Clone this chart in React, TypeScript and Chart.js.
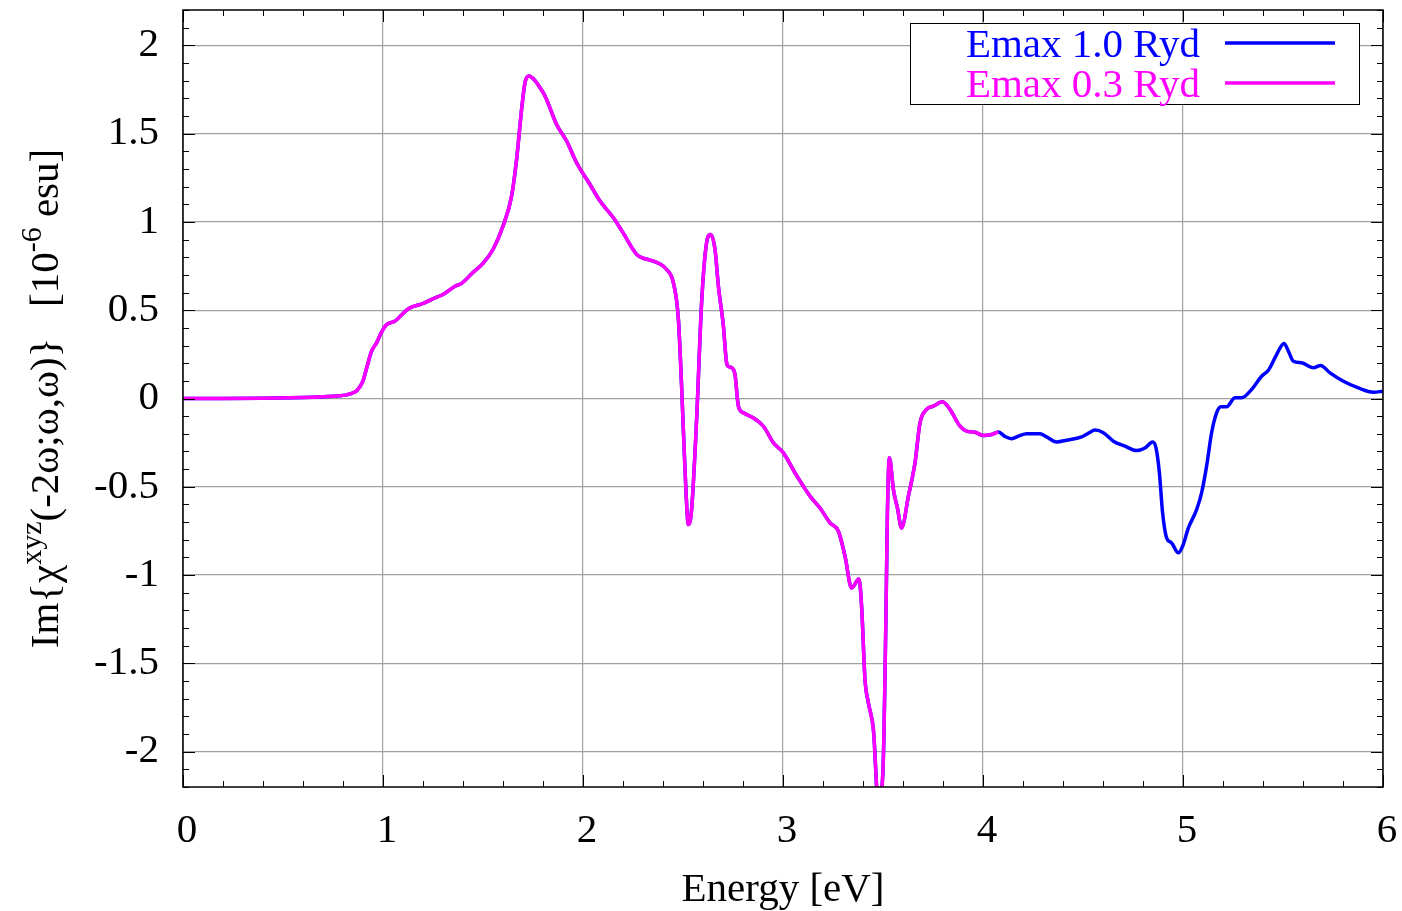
import React, { useEffect, useRef } from "react";
import { Chart, registerables } from "chart.js";
Chart.register(...registerables);

// Shared part of both spectra (Emax 0.3 Ryd ends at ~4.08 eV)
const energyLow = [
  0.0, 0.2, 0.4, 0.6, 0.7, 0.78, 0.84, 0.87, 0.9, 0.92, 0.943, 0.968, 0.99, 1.018, 1.06, 1.09,
  1.127, 1.2, 1.26, 1.3, 1.36, 1.393, 1.452, 1.5, 1.55, 1.6, 1.643, 1.668, 1.693, 1.71, 1.73,
  1.76, 1.785, 1.81, 1.84, 1.868, 1.918, 1.968, 2.035, 2.085, 2.152, 2.2, 2.268, 2.3, 2.335,
  2.38, 2.418, 2.452, 2.477, 2.493, 2.51, 2.527, 2.543, 2.568, 2.593, 2.618, 2.638, 2.66, 2.677,
  2.702, 2.718, 2.73, 2.743, 2.76, 2.777, 2.802, 2.852, 2.902, 2.952, 3.002, 3.06, 3.135, 3.185,
  3.235, 3.277, 3.31, 3.343, 3.38, 3.393, 3.41, 3.427, 3.452, 3.477, 3.5, 3.515, 3.522, 3.532,
  3.552, 3.572, 3.593, 3.627, 3.66, 3.685, 3.718, 3.752, 3.797, 3.835, 3.885, 3.918, 3.96,
  4.002, 4.043, 4.077,
];
const chiLow = [
  0.0, 0.0, 0.002, 0.006, 0.01, 0.015, 0.028, 0.045, 0.1, 0.18, 0.268, 0.315, 0.37, 0.419, 0.438,
  0.47, 0.508, 0.538, 0.57, 0.589, 0.636, 0.652, 0.716, 0.765, 0.844, 0.976, 1.146, 1.354, 1.637,
  1.789, 1.826, 1.8, 1.76, 1.713, 1.63, 1.552, 1.458, 1.335, 1.212, 1.118, 1.024, 0.939, 0.816,
  0.795, 0.784, 0.765, 0.731, 0.655, 0.448, 0.07, -0.402, -0.714, -0.629, -0.119, 0.542, 0.882,
  0.929, 0.844, 0.636, 0.41, 0.202, 0.18, 0.174, 0.136, -0.044, -0.081, -0.11, -0.157, -0.251,
  -0.308, -0.421, -0.553, -0.62, -0.704, -0.752, -0.893, -1.073, -1.022, -1.177, -1.592, -1.724,
  -1.875, -2.3, -2.1, -1.214, -0.648, -0.336, -0.516, -0.62, -0.733, -0.553, -0.364, -0.138,
  -0.062, -0.043, -0.019, -0.062, -0.157, -0.185, -0.191, -0.21, -0.204, -0.189,
];
// Extension only present in Emax 1.0 Ryd
const energyHigh = [
  4.11, 4.143, 4.18, 4.218, 4.285, 4.318, 4.368, 4.418, 4.493, 4.53, 4.56, 4.602, 4.652, 4.71,
  4.768, 4.81, 4.848, 4.865, 4.882, 4.898, 4.918, 4.943, 4.977, 4.998, 5.027, 5.068, 5.093,
  5.118, 5.143, 5.168, 5.19, 5.218, 5.26, 5.293, 5.343, 5.393, 5.427, 5.468, 5.505, 5.527,
  5.552, 5.593, 5.652, 5.688, 5.735, 5.802, 5.877, 5.952, 6.0,
];
const chiHigh = [
  -0.215, -0.228, -0.212, -0.2, -0.2, -0.217, -0.246, -0.236, -0.217, -0.195, -0.179, -0.194,
  -0.242, -0.27, -0.295, -0.28, -0.247, -0.28, -0.421, -0.648, -0.789, -0.818, -0.874, -0.837,
  -0.733, -0.629, -0.534, -0.383, -0.194, -0.081, -0.047, -0.047, 0.004, 0.004, 0.051, 0.126,
  0.16, 0.249, 0.312, 0.268, 0.211, 0.202, 0.174, 0.187, 0.145, 0.098, 0.06, 0.036, 0.041,
];

const xTicks = [0, 1, 2, 3, 4, 5, 6];
const yTicks = [-2, -1.5, -1, -0.5, 0, 0.5, 1, 1.5, 2];
const seriesNames = ["Emax 1.0 Ryd", "Emax 0.3 Ryd"];
const seriesColors = ["#0000ff", "#ff00ff"];
const xTitle = "Energy [eV]";

const FONT = '"Liberation Serif", "Times New Roman", serif';
const FS = 41;

const framePlugin = {
  id: "frame",
  afterDraw(chart: any) {
    const { ctx, chartArea: a, scales } = chart;
    const xs = scales.x;
    const ys = scales.y;
    ctx.save();
    ctx.strokeStyle = "#000";
    ctx.lineWidth = 1.5;
    ctx.strokeRect(a.left, a.top, a.right - a.left, a.bottom - a.top);
    ctx.lineWidth = 1;
    ctx.beginPath();
    for (let i = 0; i <= 30; i++) {
      const v = i * 0.2;
      const px = Math.round(xs.getPixelForValue(v)) + 0.5;
      const len = i % 5 === 0 ? 12 : 6;
      ctx.moveTo(px, a.bottom);
      ctx.lineTo(px, a.bottom - len);
      ctx.moveTo(px, a.top);
      ctx.lineTo(px, a.top + len);
    }
    for (let i = -22; i <= 22; i++) {
      const v = i * 0.1;
      const py = Math.round(ys.getPixelForValue(v)) + 0.5;
      const len = i % 5 === 0 ? 12 : 6;
      ctx.moveTo(a.left, py);
      ctx.lineTo(a.left + len, py);
      ctx.moveTo(a.right, py);
      ctx.lineTo(a.right - len, py);
    }
    ctx.stroke();

    // y-axis title with superscripts
    const segs: [string, boolean][] = [
      ["Im{\u03c7", false],
      ["xyz", true],
      ["(-2\u03c9;\u03c9,\u03c9)}   [10", false],
      ["-6", true],
      [" esu]", false],
    ];
    const big = `${FS}px ${FONT}`;
    const small = `${Math.round(FS * 0.72)}px ${FONT}`;
    let total = 0;
    for (const [t, sup] of segs) {
      ctx.font = sup ? small : big;
      total += ctx.measureText(t).width;
    }
    ctx.translate(58, (a.top + a.bottom) / 2);
    ctx.rotate(-Math.PI / 2);
    ctx.fillStyle = "#000";
    ctx.textBaseline = "alphabetic";
    ctx.textAlign = "left";
    let x = -total / 2;
    for (const [t, sup] of segs) {
      ctx.font = sup ? small : big;
      ctx.fillText(t, x, sup ? -17 : 0);
      x += ctx.measureText(t).width;
    }
    ctx.restore();

    // legend box
    ctx.save();
    ctx.fillStyle = "#fff";
    ctx.fillRect(910, 23, 449, 81);
    ctx.strokeStyle = "#000";
    ctx.lineWidth = 1;
    ctx.strokeRect(910.5, 23.5, 449, 81);
    ctx.font = big;
    ctx.textAlign = "right";
    ctx.textBaseline = "alphabetic";
    seriesNames.forEach((name, i) => {
      const cy = 43 + i * 40;
      ctx.fillStyle = seriesColors[i];
      ctx.fillText(name, 1200, cy + 14);
      ctx.strokeStyle = seriesColors[i];
      ctx.lineWidth = 3.5;
      ctx.beginPath();
      ctx.moveTo(1225, cy);
      ctx.lineTo(1335, cy);
      ctx.stroke();
    });
    ctx.restore();
  },
};

export default function App() {
  const ref = useRef<HTMLCanvasElement>(null);
  useEffect(() => {
    document.body.style.margin = "0";
    const allE = energyLow.concat(energyHigh);
    const allChi = chiLow.concat(chiHigh);
    const blue = allE.map((e, i) => ({ x: e, y: allChi[i] }));
    const magenta = energyLow.map((e, i) => ({ x: e, y: chiLow[i] }));
    const chart = new Chart(ref.current!, {
      type: "line",
      data: {
        datasets: [
          {
            label: seriesNames[0],
            data: blue,
            borderColor: seriesColors[0],
            borderWidth: 3.5,
            pointRadius: 0,
            cubicInterpolationMode: "monotone",
            fill: false,
            order: 2,
          },
          {
            label: seriesNames[1],
            data: magenta,
            borderColor: seriesColors[1],
            borderWidth: 3.5,
            pointRadius: 0,
            cubicInterpolationMode: "monotone",
            fill: false,
            order: 1,
          },
        ],
      },
      options: {
        animation: false,
        responsive: false,
        layout: { padding: { top: 10, right: 19, left: 0, bottom: 0 } },
        plugins: { legend: { display: false }, tooltip: { enabled: false } },
        scales: {
          x: {
            type: "linear",
            min: 0,
            max: 6,
            afterBuildTicks: (s: any) => {
              s.ticks = xTicks.map((v) => ({ value: v }));
            },
            afterFit: (s: any) => {
              s.height = 124;
              s.paddingLeft = 0;
              s.paddingRight = 0;
            },
            grid: { color: "rgb(160,160,160)", lineWidth: 1.2, drawTicks: false },
            border: { display: false },
            ticks: {
              color: "#000",
              font: { family: FONT, size: FS },
              padding: 20,
              labelOffset: 4,
              maxRotation: 0,
              callback: (v: any) => String(v),
            },
            title: {
              display: true,
              text: xTitle,
              color: "#000",
              font: { family: FONT, size: FS },
              padding: { top: 0, bottom: -4 },
            },
          },
          y: {
            type: "linear",
            min: -2.2,
            max: 2.2,
            afterBuildTicks: (s: any) => {
              s.ticks = yTicks.map((v) => ({ value: v }));
            },
            afterFit: (s: any) => {
              s.width = 183;
              s.paddingTop = 0;
              s.paddingBottom = 0;
            },
            grid: { color: "rgb(160,160,160)", lineWidth: 1.2, drawTicks: false },
            border: { display: false },
            ticks: {
              color: "#000",
              font: { family: FONT, size: FS },
              padding: 24,
              callback: (v: any) => String(v),
            },
          },
        },
      },
      plugins: [framePlugin],
    } as any);
    return () => chart.destroy();
  }, []);
  return (
    <div style={{ position: "absolute", left: 0, top: 0, width: 1402, height: 911 }}>
      <canvas ref={ref} width={1402} height={911} style={{ width: 1402, height: 911 }} />
    </div>
  );
}
